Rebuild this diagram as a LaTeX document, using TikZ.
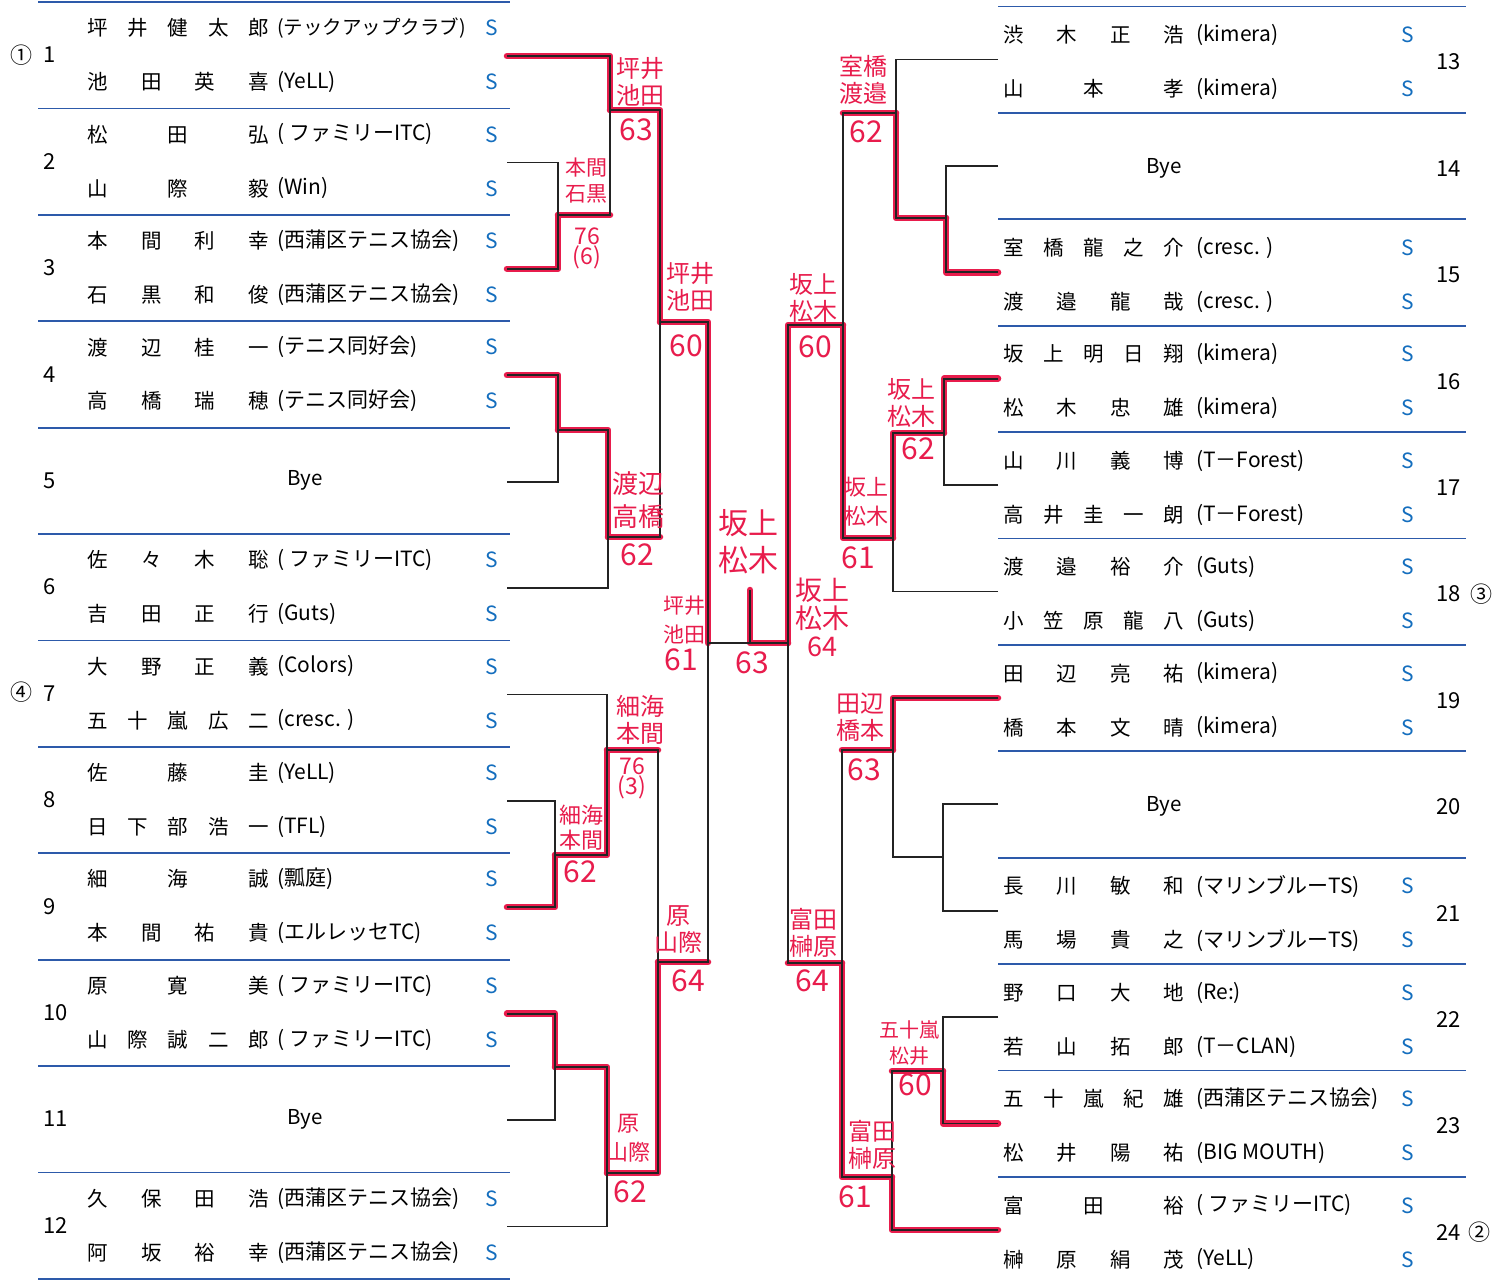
\documentclass[tikz,border=0pt]{standalone}
\usepackage{fontspec}
\setmainfont{Noto Sans CJK JP}
\usetikzlibrary{positioning}
\definecolor{sepblue}{RGB}{45,90,170}
\definecolor{sblue}{RGB}{20,110,190}
\definecolor{pen}{RGB}{232,28,76}
\definecolor{ink}{RGB}{35,35,35}

\begin{document}
\begin{tikzpicture}[x=1pt, y=-1pt,
    player/.style={anchor=west, inner sep=0, font=\fontsize{20.5}{22}\selectfont},
    club/.style={anchor=west, inner sep=0, font=\fontsize{21}{22}\selectfont},
    sgn/.style={text=sblue, inner sep=0, font=\fontsize{21}{22}\selectfont},
    numlbl/.style={anchor=west, inner sep=0, font=\fontsize{22}{22}\selectfont},
    sepline/.style={sepblue, line width=1.8pt},
    bline/.style={ink, line width=1.8pt},
    winline/.style={pen, line width=6.5pt, line cap=round, line join=round},
    hand/.style={text=pen, inner sep=0, align=center, font=\fontsize{24}{27}\selectfont},
    score/.style={text=pen, inner sep=0, align=center, font=\fontsize{30}{30}\selectfont}
]
    \useasboundingbox[fill=white] (0,0) rectangle (1495,1282);

    % Tabla izquierda
    \foreach \k in {1,...,13}
        \draw[sepline] (38,{2+106.4*(\k-1)}) -- (510,{2+106.4*(\k-1)});
    \foreach \k/\pA/\cA/\pB/\cB in {
        1/坪 井 健 太 郎/{\fontsize{19.5}{22}\selectfont(テックアップクラブ)}/池 田 英 喜/(YeLL),
        2/松 田 弘/( ファミリーITC)/山 際 毅/(Win),
        3/本 間 利 幸/(西蒲区テニス協会)/石 黒 和 俊/(西蒲区テニス協会),
        4/渡 辺 桂 一/(テニス同好会)/高 橋 瑞 穂/(テニス同好会),
        6/佐 々 木 聡/( ファミリーITC)/吉 田 正 行/(Guts),
        7/大 野 正 義/(Colors)/五 十 嵐 広 二/(cresc. ),
        8/佐 藤 圭/(YeLL)/日 下 部 浩 一/(TFL),
        9/細 海 誠/(瓢庭)/本 間 祐 貴/(エルレッセTC),
        10/原 寛 美/( ファミリーITC)/山 際 誠 二 郎/( ファミリーITC),
        12/久 保 田 浩/(西蒲区テニス協会)/阿 坂 裕 幸/(西蒲区テニス協会)} {
        \pgfmathsetmacro{\cy}{55+106.4*(\k-1)}
        \node[player] (pa\k) at (87,{\cy-27}) {\makebox[182pt][s]{\pA}};
        \node[player] (pb\k) at (87,{\cy+27}) {\makebox[182pt][s]{\pB}};
        \node[club] (ca\k) at (277,{\cy-27}) {\cA};
        \node[club] (cb\k) at (277,{\cy+27}) {\cB};
        \node[sgn] (sa\k) at (492,{\cy-27}) {S};
        \node[sgn] (sb\k) at (492,{\cy+27}) {S};
    }
    \foreach \k in {5,11}
        \node[player, anchor=center] (bye\k) at (305,{55+106.4*(\k-1)}) {Bye};
    \foreach \k in {1,...,12}
        \node[numlbl] (n\k) at (43,{55+106.4*(\k-1)}) {\k};
    \node[numlbl, anchor=center] (seed1) at (21,55) {①};
    \node[numlbl, anchor=center] (seed4) at (21,692) {④};

    % Tabla derecha
    \foreach \k in {13,...,24}
        \draw[sepline] (998,{6.5+106.4*(\k-13)}) -- (1466,{6.5+106.4*(\k-13)});
    \foreach \k/\pA/\cA/\pB/\cB in {
        13/渋 木 正 浩/(kimera)/山 本 孝/(kimera),
        15/室 橋 龍 之 介/(cresc. )/渡 邉 龍 哉/(cresc. ),
        16/坂 上 明 日 翔/(kimera)/松 木 忠 雄/(kimera),
        17/山 川 義 博/(T－Forest)/高 井 圭 一 朗/(T－Forest),
        18/渡 邉 裕 介/(Guts)/小 笠 原 龍 八/(Guts),
        19/田 辺 亮 祐/(kimera)/橋 本 文 晴/(kimera),
        21/長 川 敏 和/(マリンブルーTS)/馬 場 貴 之/(マリンブルーTS),
        22/野 口 大 地/(Re:)/若 山 拓 郎/(T－CLAN),
        23/五 十 嵐 紀 雄/(西蒲区テニス協会)/松 井 陽 祐/(BIG MOUTH),
        24/富 田 裕/( ファミリーITC)/榊 原 絹 茂/(YeLL)} {
        \pgfmathsetmacro{\cy}{62+106.4*(\k-13)}
        \node[player] (pa\k) at (1003,{\cy-27}) {\makebox[181pt][s]{\pA}};
        \node[player] (pb\k) at (1003,{\cy+27}) {\makebox[181pt][s]{\pB}};
        \node[club] (ca\k) at (1196,{\cy-27}) {\cA};
        \node[club] (cb\k) at (1196,{\cy+27}) {\cB};
        \node[sgn] (sa\k) at (1408,{\cy-27}) {S};
        \node[sgn] (sb\k) at (1408,{\cy+27}) {S};
    }
    \foreach \k in {14,20}
        \node[player, anchor=center] (bye\k) at (1164,{62+106.4*(\k-13)}) {Bye};
    \foreach \k in {13,...,24}
        \node[numlbl] (n\k) at (1436,{62+106.4*(\k-13)}) {\k};
    \node[numlbl, anchor=center] (seed3) at (1481,594) {③};
    \node[numlbl, anchor=center] (seed2) at (1479,1232) {②};

    % Cuadro
    \foreach \k in {1,...,12}
        \coordinate (a\k) at (507,{56+106.4*(\k-1)});
    \foreach \k in {13,...,24}
        \coordinate (b\k) at (998,{59.5+106.4*(\k-13)});
    \coordinate (w23) at (558,215);
    \coordinate (w1) at (610,110);
    \coordinate (w45) at (558,430);
    \coordinate (w6) at (608,537);
    \coordinate (wLT) at (660,322);
    \coordinate (w89) at (555,855);
    \coordinate (w7) at (607,750);
    \coordinate (w1011) at (555,1067);
    \coordinate (w12) at (607,1173);
    \coordinate (wLB) at (658,962);
    \coordinate (wL) at (708,643);
    \coordinate (v1415) at (946,218);
    \coordinate (v13) at (896,113);
    \coordinate (v1617) at (944,433);
    \coordinate (v18) at (893,538);
    \coordinate (wRT) at (843,325);
    \coordinate (v2021) at (943,857);
    \coordinate (v19) at (893,750);
    \coordinate (v2223) at (943,1071);
    \coordinate (v24) at (892,1177);
    \coordinate (wRB) at (842,963);
    \coordinate (wR) at (788,643);
    \coordinate (champ) at (750,590);

    % Rotulador rojo
    \foreach \s/\m in {a1/w1, a3/w23, w1/wLT, a4/w45, w45/w6, wLT/wL, a9/w89, w89/w7,
        a10/w1011, w1011/w12, w12/wLB, b15/v1415, v1415/v13, b16/v1617, v1617/v18,
        v18/wRT, wRT/wR, b19/v19, b23/v2223, b24/v24, v24/wRB}
        \draw[winline] (\s) -| (\m);
    \foreach \s/\m in {w23/w1, w6/wLT, w7/wLB, wLB/wL, v13/wRT, v19/wRB, v2223/v24, wRB/wR}
        \draw[winline] (\s) -- (\s -| \m);
    \draw[winline] (wR) -- (champ |- wR) -- (champ);

    % Lineas
    \foreach \s/\m in {a2/w23, a3/w23, a1/w1, w23/w1, a4/w45, a5/w45, w45/w6, a6/w6,
        w1/wLT, w6/wLT, a8/w89, a9/w89, a7/w7, w89/w7, a10/w1011, a11/w1011,
        w1011/w12, a12/w12, w7/wLB, w12/wLB, wLT/wL, wLB/wL,
        b14/v1415, b15/v1415, b13/v13, v1415/v13, b16/v1617, b17/v1617, v1617/v18,
        b18/v18, v13/wRT, v18/wRT, b20/v2021, b21/v2021, b19/v19, v2021/v19,
        b22/v2223, b23/v2223, v2223/v24, b24/v24, v19/wRB, v24/wRB, wRT/wR, wRB/wR}
        \draw[bline] (\s) -| (\m);
    \draw[bline] (wL) -- (wR);
    \draw[bline] (champ) -- (champ |- wL);

    % Resultados a mano
    \node[hand] (h1) at (640,82) {坪井\\池田};
    \node[score] (s1) at (636,130) {63};
    \node[hand, font=\fontsize{21}{26}\selectfont] (h2) at (586,181) {本間\\石黒};
    \node[score, font=\fontsize{23}{19}\selectfont] (s2) at (587,248) {76\\(6)};
    \node[hand] (h3) at (690,287) {坪井\\池田};
    \node[score] (s3) at (686,346) {60};
    \node[hand, font=\fontsize{26}{33}\selectfont] (h4) at (638,500) {渡辺\\高橋};
    \node[score] (s4) at (637,555) {62};
    \node[hand, font=\fontsize{21}{29}\selectfont] (h5) at (684,620) {坪井\\池田};
    \node[score] (s5) at (681,660) {61};
    \node[hand] (h6) at (640,720) {細海\\本間};
    \node[score, font=\fontsize{23}{19}\selectfont] (s6) at (632,778) {76\\(3)};
    \node[hand, font=\fontsize{22}{25}\selectfont] (h7) at (581,828) {細海\\本間};
    \node[score] (s7) at (580,872) {62};
    \node[hand] (h8) at (678,930) {原\\山際};
    \node[score] (s8) at (688,981) {64};
    \node[hand, font=\fontsize{22}{29}\selectfont] (h9) at (628,1138) {原\\山際};
    \node[score] (s9) at (630,1192) {62};
    \node[hand, font=\fontsize{30}{37}\selectfont] (h10) at (748,542) {坂上\\松木};
    \node[score] (s10) at (752,663) {63};
    \node[hand, font=\fontsize{27}{28}\selectfont] (h11) at (822,617) {坂上\\松木\\64};
    \node[hand] (h12) at (863,80) {室橋\\渡邉};
    \node[score] (s12) at (866,132) {62};
    \node[hand] (h13) at (813,298) {坂上\\松木};
    \node[score] (s13) at (815,347) {60};
    \node[hand] (h14) at (911,403) {坂上\\松木};
    \node[score] (s14) at (918,449) {62};
    \node[hand, font=\fontsize{22}{29}\selectfont] (h15) at (866,502) {坂上\\松木};
    \node[score] (s15) at (858,558) {61};
    \node[hand] (h16) at (860,717) {田辺\\橋本};
    \node[score] (s16) at (864,770) {63};
    \node[hand] (h17) at (813,933) {富田\\榊原};
    \node[score] (s17) at (812,981) {64};
    \node[hand, font=\fontsize{20}{26}\selectfont] (h18) at (909,1043) {五十嵐\\松井};
    \node[score] (s18) at (915,1085) {60};
    \node[hand] (h19) at (872,1145) {富田\\榊原};
    \node[score] (s19) at (855,1197) {61};
\end{tikzpicture}
\end{document}
